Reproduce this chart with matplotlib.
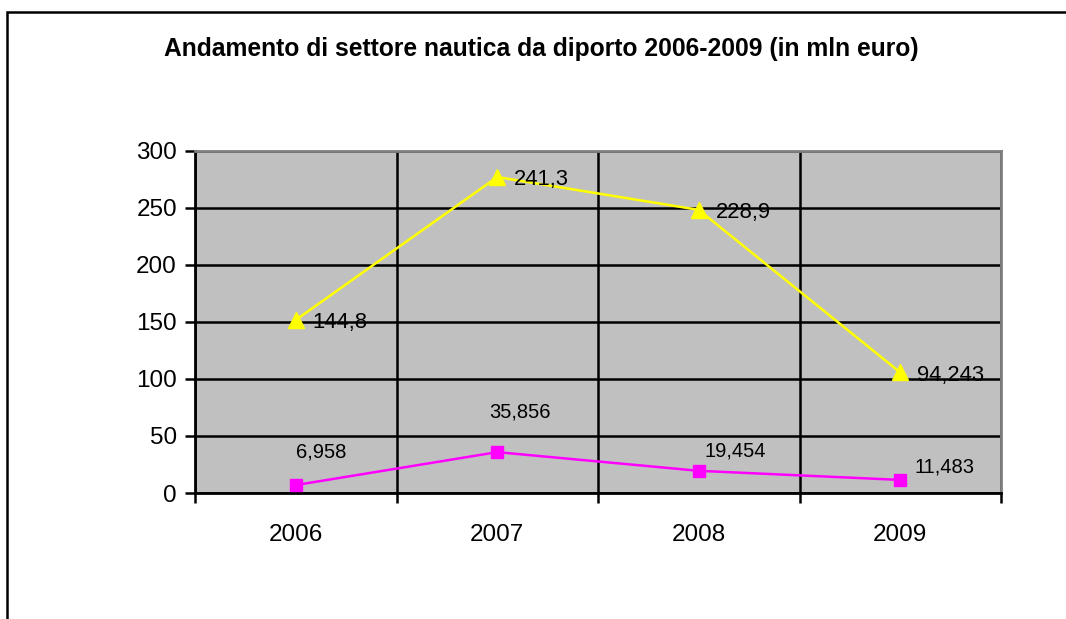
import matplotlib
matplotlib.use('Agg')
import matplotlib.pyplot as plt
from matplotlib.patches import Rectangle
import numpy as np

years = ['2006', '2007', '2008', '2009']
series_top = [144.8, 241.3, 228.9, 94.243]      # yellow, stacked on top
series_base = [6.958, 35.856, 19.454, 11.483]   # magenta
y_ticks = [0, 50, 100, 150, 200, 250, 300]

# label offsets (points) for the magenta values, as in the original
base_offsets = [(18, 24), (16, 29), (26, 14), (32, 9)]


def fmt(v):
    return f'{v:g}'.replace('.', ',')


def main():
    plt.rcParams['font.family'] = ['Liberation Sans', 'DejaVu Sans']
    fig = plt.figure(figsize=(10.66, 6.19), dpi=100)
    fig.patches.append(Rectangle((6.5 / 1066, -0.5), 2, 1.5 - 12 / 619,
                                 transform=fig.transFigure, fill=False,
                                 edgecolor='black', linewidth=1.8))
    fig.text(0.508, 1 - 49 / 619, 'Andamento di settore nautica da diporto 2006-2009 (in mln euro)',
             ha='center', va='center', fontsize=17.7, fontweight='bold')

    ax = fig.add_axes([195 / 1066, 1 - 493 / 619, 806 / 1066, 342 / 619])
    ax.set_facecolor('#c0c0c0')
    x = np.arange(len(years))
    base = np.array(series_base)
    top = base + np.array(series_top)

    ax.plot(x, base, color='#ff00ff', lw=1.8, marker='s', markersize=9, zorder=3)
    ax.plot(x, top, color='#ffff00', lw=1.8, marker='^', markersize=11, zorder=3)

    for xi, yi, v in zip(x, top, series_top):
        ax.annotate(fmt(v), (xi, yi), xytext=(12, -2), textcoords='offset points',
                    ha='left', va='center', fontsize=15.8)
    for xi, yi, v, off in zip(x, base, series_base, base_offsets):
        ax.annotate(fmt(v), (xi, yi), xytext=off, textcoords='offset points',
                    ha='center', va='center', fontsize=14.5)

    ax.set_xlim(-0.5, len(years) - 0.5)
    ax.set_ylim(0, 300)
    ax.set_yticks(y_ticks)
    ax.set_xticks(np.arange(len(years) + 1) - 0.5)
    ax.set_xticklabels([])
    ax.set_xticks(x, minor=True)
    ax.set_xticklabels(years, minor=True)
    ax.tick_params(axis='x', which='minor', length=0, pad=22, labelsize=17.5)
    ax.tick_params(axis='x', which='major', length=7, width=1.8, direction='out')
    ax.tick_params(axis='y', length=7, width=1.8, direction='out', pad=6, labelsize=17.5)

    ax.grid(True, which='major', color='black', lw=1.8)
    ax.set_axisbelow(True)
    for s in ['top', 'right']:
        ax.spines[s].set_color('#808080')
        ax.spines[s].set_linewidth(2)
    for s in ['left', 'bottom']:
        ax.spines[s].set_color('black')
        ax.spines[s].set_linewidth(2)

    fig.savefig('out.png', dpi=100)


if __name__ == '__main__':
    main()
